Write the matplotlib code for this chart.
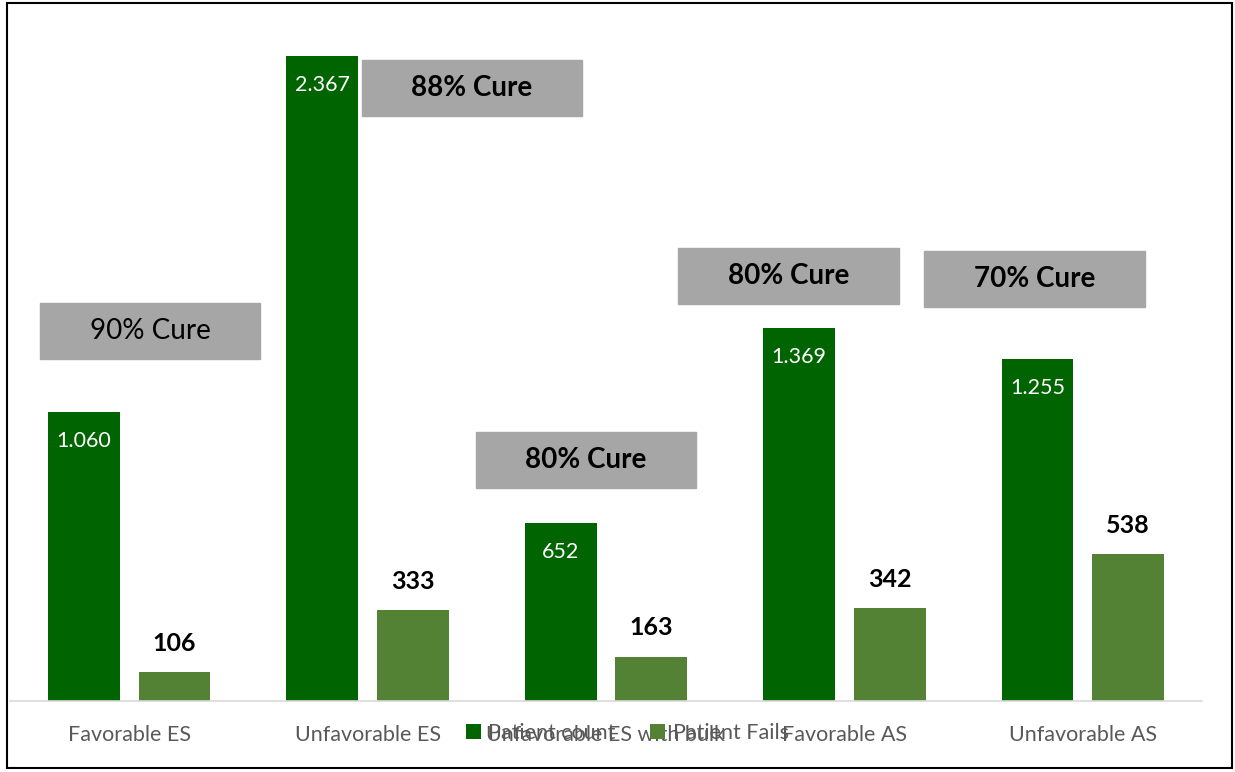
import matplotlib.pyplot as plt
import numpy as np
from matplotlib.patches import Rectangle

plt.rcParams['font.family'] = ['Lato', 'DejaVu Sans']

categories = ['Favorable ES', 'Unfavorable ES', 'Unfavorable ES with bulk',
              'Favorable AS', 'Unfavorable AS']
patient_count = [1060, 2367, 652, 1369, 1255]
patient_fails = [106, 333, 163, 342, 538]
count_labels = ['1.060', '2.367', '652', '1.369', '1.255']
cure_text = ['90% Cure', '88% Cure', '80% Cure', '80% Cure', '70% Cure']
cure_bold = [False, True, True, True, True]
# box centres (category units, value units)
cure_x = [0.088, 1.437, 1.916, 2.766, 3.797]
cure_y = [1358, 2248, 884, 1558, 1549]

dark = '#006400'
light = '#548235'

fig = plt.figure(figsize=(12.35, 7.72), dpi=100)
ax = fig.add_axes([10 / 1235, 71 / 772, 1192 / 1235, 691 / 772])
x = np.arange(len(categories))
w = 0.301
off = 0.19
b1 = ax.bar(x - off, patient_count, w, color=dark, label='Patient count')
b2 = ax.bar(x + off, patient_fails, w, color=light, label='Patient Fails')
ax.set_xlim(-0.5, 4.5)
ax.set_ylim(0, 2536)

for rect, lab in zip(b1, count_labels):
    ax.text(rect.get_x() + rect.get_width() / 2, rect.get_height() - 105, lab,
            ha='center', va='center', color='white', fontsize=15.5)
for rect, v in zip(b2, patient_fails):
    ax.text(rect.get_x() + rect.get_width() / 2, v + 105, str(v),
            ha='center', va='center', color='black', fontsize=18, fontweight='bold')

bw, bh = 0.925, 205.5
for cx, cy, t, b in zip(cure_x, cure_y, cure_text, cure_bold):
    ax.add_patch(Rectangle((cx - bw / 2, cy - bh / 2), bw, bh, color='#A6A6A6', zorder=3))
    ax.text(cx, cy, t, ha='center', va='center', fontsize=20, zorder=4,
            fontweight='bold' if b else 'normal', color='black')

for s in ['top', 'right', 'left']:
    ax.spines[s].set_visible(False)
ax.spines['bottom'].set_color('#D9D9D9')
ax.spines['bottom'].set_linewidth(1.2)
ax.set_yticks([])
ax.set_xticks(x)
ax.set_xticklabels(categories, fontsize=15.5, color='#595959')
ax.tick_params(axis='x', length=0, pad=17)

fig.legend(loc='center', bbox_to_anchor=(0.508, 0.0505), ncol=2, frameon=False,
           fontsize=15.5, labelcolor='#595959', handlelength=0.7, handleheight=0.7,
           handletextpad=0.35, columnspacing=1.6)

fig.patches.append(Rectangle((7 / 1235, 4 / 772), 1225 / 1235, 765 / 772,
                             transform=fig.transFigure, fill=False,
                             edgecolor='black', linewidth=1.5))
fig.savefig('out.png', dpi=100)
